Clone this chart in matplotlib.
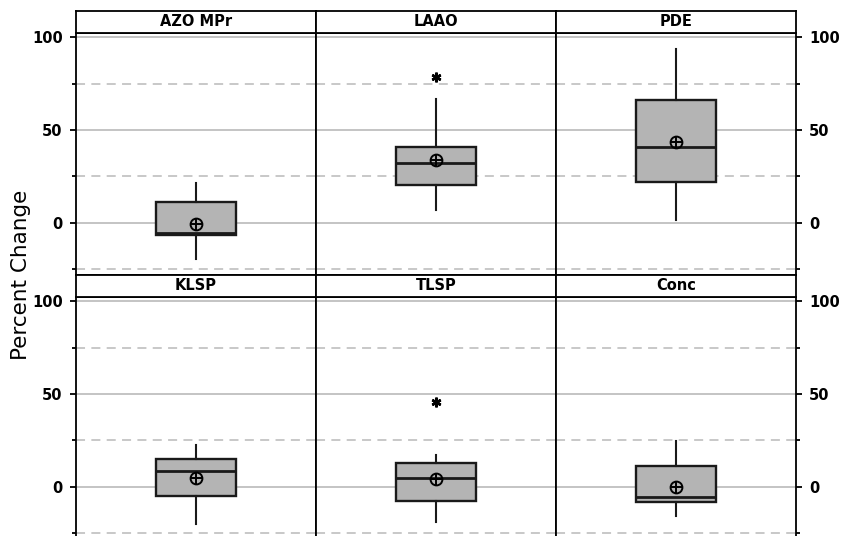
import matplotlib
matplotlib.use("Agg")
import matplotlib.pyplot as plt

# ---- data ----
panels = ["AZO MPr", "LAAO", "PDE", "KLSP", "TLSP", "Conc"]
q1 = [-6.8, 20.5, 22.1, -5.2, -7.6, -8.3]
med = [-5.7, 32.2, 41.0, 8.4, 4.9, -5.4]
q3 = [11.0, 41.0, 66.0, 15.2, 12.9, 11.2]
whislo = [-19.8, 6.7, 1.3, -19.9, -18.8, -15.9]
whishi = [21.4, 66.9, 93.6, 22.4, 17.0, 24.8]
means = [-0.9, 33.7, 43.4, 4.9, 4.0, 0.0]
outliers = [[], [78.6], [], [], [45.9], []]
major_ticks = [0, 50, 100]
minor_ticks = [-25, 25, 75]
ylabel = "Percent Change"

W, H = 843, 536
fig = plt.figure(figsize=(W / 100, H / 100), dpi=100)

left0 = 76
pw = 240
ph = 242
hh = 22
rows_top = [33, 297]   # pixel y (from top) of plot-area top
ylim = (-28.2, 102.4)
box_fc = "#b4b4b4"

for i, name in enumerate(panels):
    r, c = divmod(i, 3)
    x0 = left0 + c * pw
    ytop = rows_top[r]
    ax = fig.add_axes([x0 / W, (H - ytop - ph) / H, pw / W, ph / H])
    hax = fig.add_axes([x0 / W, (H - ytop) / H, pw / W, hh / H])
    # header strip
    hax.set_xticks([]); hax.set_yticks([])
    for s in hax.spines.values():
        s.set_linewidth(1.3); s.set_color("black")
    hax.text(0.5, 0.5, name, ha="center", va="center", fontsize=10.5,
             fontweight="bold", transform=hax.transAxes)

    stats = [dict(med=med[i], q1=q1[i], q3=q3[i], whislo=whislo[i],
                  whishi=whishi[i], fliers=outliers[i], mean=means[i])]
    ax.bxp(stats, positions=[0], widths=[0.336], patch_artist=True,
           showcaps=False, showfliers=True, showmeans=False,
           boxprops=dict(facecolor=box_fc, edgecolor="#1a1a1a", linewidth=1.7),
           medianprops=dict(color="#1a1a1a", linewidth=2.0),
           whiskerprops=dict(color="#1a1a1a", linewidth=1.5),
           flierprops=dict(marker=(6, 2, 0), markersize=7, markeredgecolor="black",
                           markeredgewidth=1.8, linestyle="none"),
           zorder=3)
    ax.plot([0], [means[i]], marker="o", markersize=8.5, mfc="none", mec="black",
            mew=1.4, zorder=5, linestyle="none")
    ax.plot([0], [means[i]], marker="+", markersize=8.5, mec="black",
            mew=1.4, zorder=5, linestyle="none")

    ax.set_xlim(-0.5, 0.5)
    ax.set_ylim(*ylim)
    ax.set_xticks([])
    ax.set_yticks(major_ticks)
    ax.set_yticks(minor_ticks, minor=True)
    for t in major_ticks:
        ax.axhline(t, color="#c4c4c4", linewidth=1.4, zorder=0)
    for t in minor_ticks:
        ax.axhline(t, color="#c4c4c4", linewidth=1.3, linestyle=(0, (5, 3.5)), zorder=0)
    for s in ax.spines.values():
        s.set_linewidth(1.3); s.set_color("black")

    if c == 0:
        ax.tick_params(axis="y", which="both", left=True, right=False,
                       labelleft=True, labelright=False)
    elif c == 2:
        ax.tick_params(axis="y", which="both", left=False, right=True,
                       labelleft=False, labelright=True)
    else:
        ax.tick_params(axis="y", which="both", left=False, right=False,
                       labelleft=False, labelright=False)
    ax.tick_params(axis="y", which="major", length=4.5, width=1.3, pad=5,
                   labelsize=10.5)
    ax.tick_params(axis="y", which="minor", length=3, width=1.3)
    for lab in ax.get_yticklabels():
        lab.set_fontweight("bold")

fig.text(21 / W, (H - 275) / H, ylabel, rotation=90, ha="center", va="center",
         fontsize=15.5)

fig.savefig("out.png", dpi=100)
